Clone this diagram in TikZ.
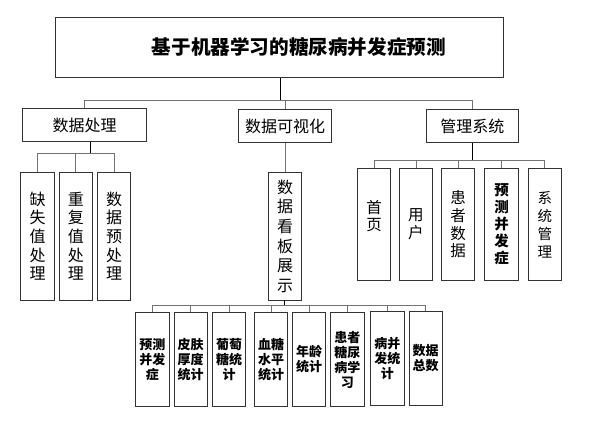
\documentclass[tikz,border=0pt]{standalone}
\usepackage{fontspec}
\newfontfamily\cjk{Noto Sans CJK SC}
\begin{document}
\begin{tikzpicture}[x=1pt,y=-1pt,
  box/.style={draw=black!80,line width=0.8pt,inner sep=0pt,align=center,fill=white},
  titlebox/.style={box,minimum width=448pt,minimum height=60.4pt,font=\cjk\bfseries\fontsize{19.6}{21}\selectfont},
  midbox/.style={box,minimum height=33.4pt,font=\cjk\fontsize{16}{18}\selectfont},
  tallbox/.style={box,minimum width=33.4pt,minimum height=127.7pt,font=\cjk\fontsize{16}{18.7}\selectfont},
  sysbox/.style={box,minimum width=33.3pt,minimum height=112.2pt,font=\cjk\fontsize{15.5}{17.8}\selectfont},
  statbox/.style={box,minimum width=33.3pt,minimum height=94.4pt,font=\cjk\bfseries\fontsize{13}{15}\selectfont},
  conn/.style={draw=black!55,line width=0.8pt},
  trunk/.style={draw=black,line width=0.8pt}]
\useasboundingbox (0,0) rectangle (599,426);
% level 0
\node[titlebox] (top) at (279.3,47.5) {\hspace*{39pt}基于机器学习的糖尿病并发症预测};
% level 1
\node[midbox,minimum width=124pt] (dp) at (84.7,125) {数据处理};
\node[midbox,minimum width=92.6pt] (dv) at (285,126) {数据可视化};
\node[midbox,minimum width=92pt] (gl) at (472.3,126) {管理系统};
% level 2 left
\node[tallbox] (a1) at (37.5,236.2) {缺\\失\\值\\处\\理};
\node[tallbox] (a2) at (75.8,236.2) {重\\复\\值\\处\\理};
\node[tallbox] (a3) at (114,236.2) {数\\据\\预\\处\\理};
% middle
\node[tallbox,font=\cjk\fontsize{16}{19.7}\selectfont] (kb) at (285,236.2) {数\\据\\看\\板\\展\\示};
% right
\node[sysbox] (b1) at (374,224.4) {首\\页\\\mbox{}};
\node[sysbox] (b2) at (415.9,224.4) {用\\户};
\node[sysbox] (b3) at (458.2,224.4) {患\\者\\数\\据};
\node[sysbox,font=\cjk\bfseries\fontsize{14.5}{17}\selectfont] (b4) at (501.5,224.4) {预\\测\\并\\发\\症};
\node[sysbox,font=\cjk\fontsize{14.5}{18}\selectfont] (b5) at (544.8,224.4) {系\\统\\管\\理};
% bottom
\node[statbox] (c1) at (152.3,359.5) {预测\\并发\\症};
\node[statbox] (c2) at (190.7,359.5) {皮肤\\厚度\\统计};
\node[statbox] (c3) at (229,359.5) {葡萄\\糖统\\计};
\node[statbox] (c4) at (271,359.5) {血糖\\水平\\统计};
\node[statbox] (c5) at (309,359.5) {年龄\\统计};
\node[statbox] (c6) at (347.3,359.5) {患者\\糖尿\\病学\\习};
\node[statbox] (c7) at (387.3,358.5) {病并\\发统\\计};
\node[statbox] (c8) at (425.7,358.5) {数据\\总数};
% connectors level 0 -> 1
\draw[trunk] ([xshift=0.7pt]top.south) -- ++(0,22.3) coordinate (t0);
\draw[conn] (t0) -| (dp.north);
\draw[conn] (t0) -| (dv.north);
\draw[conn] (t0) -| (gl.north);
% dp -> left
\draw[trunk] ([xshift=6pt]dp.south) -- ++(0,11) coordinate (t1);
\foreach \n in {a1,a2,a3} \draw[conn] (t1) -| (\n.north);
% dv -> kb
\draw[conn] (dv.south) -- (kb.north);
% gl -> right
\draw[trunk] (gl.south) -- ++(0,17.3) coordinate (t2);
\foreach \n in {b1,b2,b3,b4,b5} \draw[conn] (t2) -| (\n.north);
% kb -> bottom
\draw[trunk] ([xshift=-0.7pt]kb.south) -- ++(0,5) coordinate (t3);
\foreach \n in {c1,c2,c3,c4,c5,c6,c7,c8} \draw[conn] (t3) -| (\n.north);
\end{tikzpicture}
\end{document}
